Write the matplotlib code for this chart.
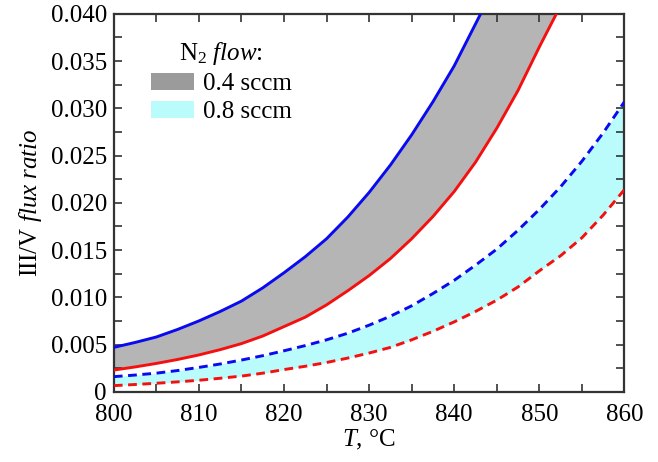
import numpy as np
import matplotlib
matplotlib.use('Agg')
import matplotlib.pyplot as plt
from matplotlib.patches import Patch
from matplotlib.ticker import MultipleLocator

plt.rcParams['font.family'] = 'Liberation Serif'
plt.rcParams['mathtext.fontset'] = 'custom'
plt.rcParams['mathtext.rm'] = 'Liberation Serif'
plt.rcParams['mathtext.it'] = 'Liberation Serif:italic'

# 0.4 sccm band (solid curves)
T_hi04 = [800, 802.5, 805, 807.5, 810, 812.5, 815, 817.5, 820, 822.5, 825, 827.5,
          830, 832.5, 835, 837.5, 840, 843.1]
ratio_hi04 = [0.0047, 0.00522, 0.0058, 0.0066, 0.0075, 0.0085, 0.0096, 0.0110, 0.0126,
              0.0143, 0.0162, 0.0185, 0.0211, 0.0240, 0.0272, 0.0307, 0.0345, 0.0400]
T_lo04 = [800, 802.5, 805, 807.5, 810, 812.5, 815, 817.5, 820, 822.5, 825, 827.5,
          830, 832.5, 835, 837.5, 840, 842.5, 845, 847.5, 850, 852]
ratio_lo04 = [0.0023, 0.00263, 0.0030, 0.00342, 0.0039, 0.00446, 0.0051, 0.0059, 0.0069,
              0.0079, 0.0092, 0.0107, 0.0123, 0.0141, 0.0162, 0.01855, 0.0212, 0.0243,
              0.0279, 0.0319, 0.0365, 0.0400]

# 0.8 sccm band (dashed curves)
T_08 = [800, 802.5, 805, 807.5, 810, 812.5, 815, 817.5, 820, 822.5, 825, 827.5, 830,
        832.5, 835, 837.5, 840, 842.5, 845, 847.5, 850, 852.5, 855, 857.5, 860]
ratio_hi08 = [0.0016, 0.00177, 0.00197, 0.00225, 0.00258, 0.00294, 0.00336, 0.00382,
              0.00434, 0.00489, 0.0055, 0.0062, 0.00705, 0.0080, 0.0091, 0.0104, 0.0118,
              0.0134, 0.0151, 0.0171, 0.0193, 0.0217, 0.0244, 0.0274, 0.0307]
ratio_lo08 = [0.00065, 0.00077, 0.0009, 0.00105, 0.00122, 0.00143, 0.00166, 0.00197,
              0.00235, 0.0027, 0.0031, 0.00357, 0.0041, 0.0047, 0.0055, 0.0064, 0.0074,
              0.0085, 0.0097, 0.0111, 0.0128, 0.0144, 0.0163, 0.0187, 0.0214]

labels = ['0.4 sccm', '0.8 sccm']
ymax = 0.040
fs = 18

fig = plt.figure(figsize=(6.58, 4.62), dpi=100)
ax = fig.add_axes([0.173, 0.152, 0.776, 0.818])

# gray band: up the blue curve, along the top, back down the red curve
poly_x = list(T_hi04) + list(T_lo04[::-1])
poly_y = list(ratio_hi04) + list(ratio_lo04[::-1])
ax.fill(poly_x, poly_y, color='#b5b5b5', lw=0, zorder=1)
ax.fill_between(T_08, ratio_lo08, ratio_hi08, color='#bafbfb', lw=0, zorder=1)

ax.plot(T_hi04, ratio_hi04, color='#0a0af0', lw=2.1, zorder=3)
ax.plot(T_lo04, ratio_lo04, color='#f51010', lw=2.1, zorder=3)
ax.plot(T_08, ratio_hi08, color='#0a0af0', lw=2.1, ls=(0, (3.0, 1.9)), zorder=3)
ax.plot(T_08, ratio_lo08, color='#f51010', lw=2.1, ls=(0, (3.0, 1.9)), zorder=3)

ax.set_xlim(800, 860)
ax.set_ylim(0, ymax)
ax.xaxis.set_major_locator(MultipleLocator(10))
ax.xaxis.set_minor_locator(MultipleLocator(5))
ax.yaxis.set_minor_locator(MultipleLocator(0.0025))
ticks = np.arange(0, ymax + 0.001, 0.005)
ax.set_yticks(ticks)
ax.set_yticklabels(['0' if t == 0 else '%.3f' % t for t in ticks])

ax.tick_params(which='both', direction='in', top=True, right=True,
               length=6, width=1.2, color='#333333', labelsize=fs)
ax.tick_params(axis='y', pad=5)
ax.tick_params(axis='x', pad=9)
for s in ax.spines.values():
    s.set_linewidth(1.6)
    s.set_color('#333333')

ax.set_xlabel(r'$T$, °C', fontsize=fs, labelpad=1)
ax.set_ylabel(r'III/V $\mathit{flux\ ratio}$', fontsize=fs, labelpad=5)

handles = [Patch(facecolor='#9b9b9b', edgecolor='none'),
           Patch(facecolor='#bafbfb', edgecolor='none')]
leg = ax.legend(handles, labels, title=r'N$_2$ $\mathit{flow}$:', loc='upper left',
                bbox_to_anchor=(0.072, 0.93), frameon=False, fontsize=fs,
                title_fontsize=fs, handlelength=1.75, handleheight=0.7,
                handletextpad=0.35, labelspacing=0.22, borderaxespad=0, borderpad=0)

fig.savefig('out.png', dpi=100)
